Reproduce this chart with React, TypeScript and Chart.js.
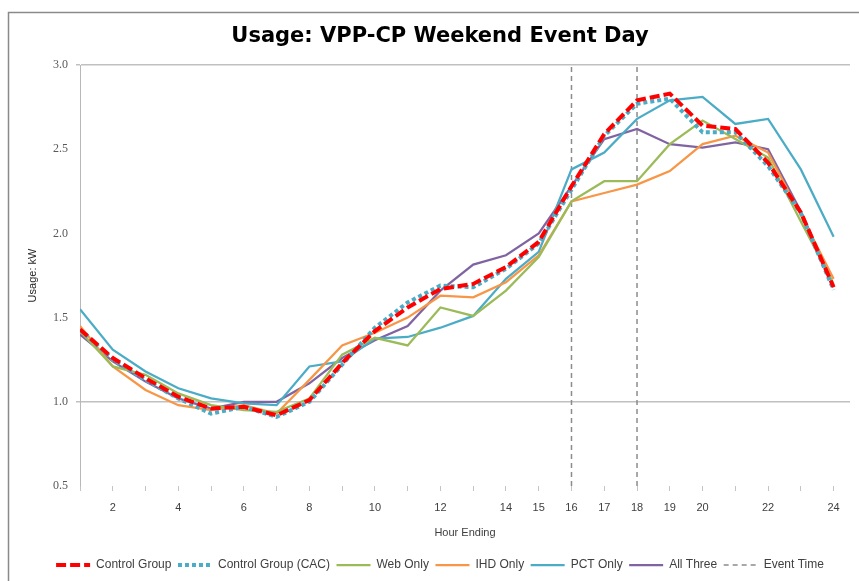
import React, { useEffect, useRef } from 'react';
import { Chart, registerables } from 'chart.js';

Chart.register(...registerables);

const hours = [1, 2, 3, 4, 5, 6, 7, 8, 9, 10, 11, 12, 13, 14, 15, 16, 17, 18, 19, 20, 21, 22, 23, 24];
const xTickLabels = ['', '2', '', '4', '', '6', '', '8', '', '10', '', '12', '', '14', '15', '16', '17', '18', '19', '20', '', '22', '', '24'];
const yTickValues = [0.5, 1.0, 1.5, 2.0, 2.5, 3.0];
const yGridValues = [1.0, 3.0];
const eventHours = [16, 18];

const controlGroup = [1.43, 1.26, 1.14, 1.03, 0.96, 0.97, 0.92, 1.01, 1.23, 1.42, 1.56, 1.67, 1.70, 1.80, 1.95, 2.28, 2.59, 2.79, 2.83, 2.64, 2.62, 2.42, 2.125, 1.68];
const controlGroupCAC = [1.43, 1.25, 1.13, 1.02, 0.93, 0.97, 0.91, 1.00, 1.22, 1.44, 1.59, 1.69, 1.68, 1.79, 1.94, 2.26, 2.58, 2.77, 2.80, 2.60, 2.60, 2.40, 2.12, 1.665];
const webOnly = [1.42, 1.21, 1.16, 1.05, 0.98, 0.95, 0.94, 1.02, 1.28, 1.38, 1.335, 1.56, 1.51, 1.66, 1.86, 2.19, 2.31, 2.31, 2.53, 2.67, 2.56, 2.45, 2.07, 1.70];
const ihdOnly = [1.45, 1.21, 1.07, 0.98, 0.95, 0.98, 0.93, 1.13, 1.335, 1.41, 1.50, 1.63, 1.62, 1.71, 1.87, 2.19, 2.24, 2.29, 2.37, 2.53, 2.58, 2.48, 2.11, 1.73];
const pctOnly = [1.55, 1.31, 1.18, 1.08, 1.02, 0.99, 0.98, 1.21, 1.24, 1.375, 1.385, 1.44, 1.51, 1.73, 1.89, 2.38, 2.48, 2.68, 2.79, 2.81, 2.65, 2.68, 2.38, 1.98];
const allThree = [1.40, 1.24, 1.12, 1.02, 0.96, 1.00, 1.00, 1.11, 1.26, 1.365, 1.45, 1.66, 1.815, 1.87, 2.00, 2.28, 2.56, 2.62, 2.53, 2.51, 2.54, 2.50, 2.13, 1.69];

const toPoints = (vals: number[]) => vals.map((v, i) => ({ x: hours[i], y: v }));

const eventPoints = () => {
  const pts: { x: number; y: number | null }[] = [];
  eventHours.forEach((h, i) => {
    if (i > 0) pts.push({ x: (eventHours[i - 1] + h) / 2, y: null });
    pts.push({ x: h, y: yTickValues[0] });
    pts.push({ x: h, y: yTickValues[yTickValues.length - 1] });
  });
  return pts;
};

const framePlugin = {
  id: 'frame',
  beforeDraw(chart: any) {
    const ctx = chart.ctx;
    ctx.save();
    ctx.fillStyle = '#ffffff';
    ctx.fillRect(0, 0, chart.width, chart.height);
    ctx.strokeStyle = '#8a8a8a';
    ctx.lineWidth = 1.5;
    ctx.beginPath();
    ctx.moveTo(8.5, chart.height);
    ctx.lineTo(8.5, 12.5);
    ctx.lineTo(chart.width, 12.5);
    ctx.stroke();
    ctx.restore();
  },
};

export default function App() {
  const ref = useRef<HTMLCanvasElement | null>(null);

  useEffect(() => {
    if (!ref.current) return;
    Chart.defaults.font.family = "'Liberation Sans', Arial, sans-serif";
    const chart = new Chart(ref.current, {
      type: 'line',
      data: {
        datasets: [
          { label: 'Control Group', data: toPoints(controlGroup), borderColor: '#ff0000', backgroundColor: '#ff0000', borderWidth: 4, borderDash: [10, 4] },
          { label: 'Control Group (CAC)', data: toPoints(controlGroupCAC), borderColor: '#4bacc6', backgroundColor: '#4bacc6', borderWidth: 4, borderDash: [4, 3] },
          { label: 'Web Only', data: toPoints(webOnly), borderColor: '#9bbb59', backgroundColor: '#9bbb59', borderWidth: 2.25 },
          { label: 'IHD Only', data: toPoints(ihdOnly), borderColor: '#f79646', backgroundColor: '#f79646', borderWidth: 2.25 },
          { label: 'PCT Only', data: toPoints(pctOnly), borderColor: '#4bacc6', backgroundColor: '#4bacc6', borderWidth: 2.25 },
          { label: 'All Three', data: toPoints(allThree), borderColor: '#8064a2', backgroundColor: '#8064a2', borderWidth: 2.25 },
          { label: 'Event Time', data: eventPoints() as any, borderColor: '#8c8c8c', backgroundColor: '#8c8c8c', borderWidth: 1.5, borderDash: [5, 4], spanGaps: false },
        ],
      },
      options: {
        animation: false,
        responsive: false,
        devicePixelRatio: 1,
        layout: { padding: { left: 30, right: 9, top: 0, bottom: 0 } },
        elements: { point: { radius: 0, hoverRadius: 0 }, line: { tension: 0 } },
        plugins: {
          tooltip: { enabled: false },
          title: {
            display: true,
            text: 'Usage: VPP-CP Weekend Event Day',
            color: '#000000',
            font: { family: "'DejaVu Sans', sans-serif", size: 21, weight: 'bold' },
            padding: { top: 24.4, bottom: 15.4 },
          },
          legend: {
            position: 'bottom',
            labels: {
              usePointStyle: true,
              pointStyle: 'line',
              pointStyleWidth: 34,
              boxWidth: 34,
              padding: 6.5,
              color: '#404040',
              font: { size: 12 },
              generateLabels: (c: any) => {
                const items = Chart.defaults.plugins.legend.labels.generateLabels(c);
                items.forEach((it: any, i: number) => {
                  const ds: any = c.data.datasets[i];
                  it.lineDash = ds.borderDash || [];
                  it.lineWidth = ds.borderWidth;
                  it.strokeStyle = ds.borderColor;
                  it.fillStyle = ds.borderColor;
                  it.pointStyle = 'line';
                });
                return items;
              },
            },
          },
        },
        scales: {
          x: {
            type: 'linear',
            min: hours[0],
            max: hours[hours.length - 1] + 0.5,
            afterBuildTicks: (axis: any) => {
              axis.ticks = hours.map((h) => ({ value: h }));
            },
            afterFit: (scale: any) => {
              scale.height = 66.5;
            },
            border: { display: false },
            grid: { display: true, drawOnChartArea: false, drawTicks: true, tickLength: 5, color: '#c4c4c4' },
            ticks: {
              autoSkip: false,
              maxRotation: 0,
              padding: 10,
              color: '#404040',
              font: { size: 11 },
              callback: (_v: any, i: number) => xTickLabels[i],
            },
            title: {
              display: true,
              text: 'Hour Ending',
              color: '#404040',
              font: { size: 11 },
              padding: { top: 0, bottom: 13.4 },
            },
          },
          y: {
            type: 'linear',
            min: yTickValues[0],
            max: yTickValues[yTickValues.length - 1],
            afterBuildTicks: (axis: any) => {
              axis.ticks = yTickValues.map((v) => ({ value: v }));
            },
            afterFit: (scale: any) => {
              scale.width = 50;
            },
            border: { display: true, color: '#b8b8b8', width: 1 },
            grid: {
              tickLength: 4,
              color: (c: any) => (c.tick && yGridValues.includes(c.tick.value) ? '#c0c0c0' : 'rgba(0,0,0,0)'),
              lineWidth: 1.5,
            },
            ticks: {
              padding: 8,
              color: '#595959',
              font: { family: "'Liberation Serif', serif", size: 12 },
              callback: (v: any) => Number(v).toFixed(1),
            },
            title: {
              display: true,
              text: 'Usage: kW',
              color: '#262626',
              font: { size: 11 },
              padding: { top: -4, bottom: 0 },
            },
          },
        },
      },
      plugins: [framePlugin],
    } as any);
    return () => chart.destroy();
  }, []);

  return (
    <div style={{ position: 'fixed', left: 0, top: 0, width: 859, height: 581, overflow: 'hidden', background: '#fff' }}>
      <canvas ref={ref} width={859} height={581} style={{ width: 859, height: 581, display: 'block' }} />
    </div>
  );
}
